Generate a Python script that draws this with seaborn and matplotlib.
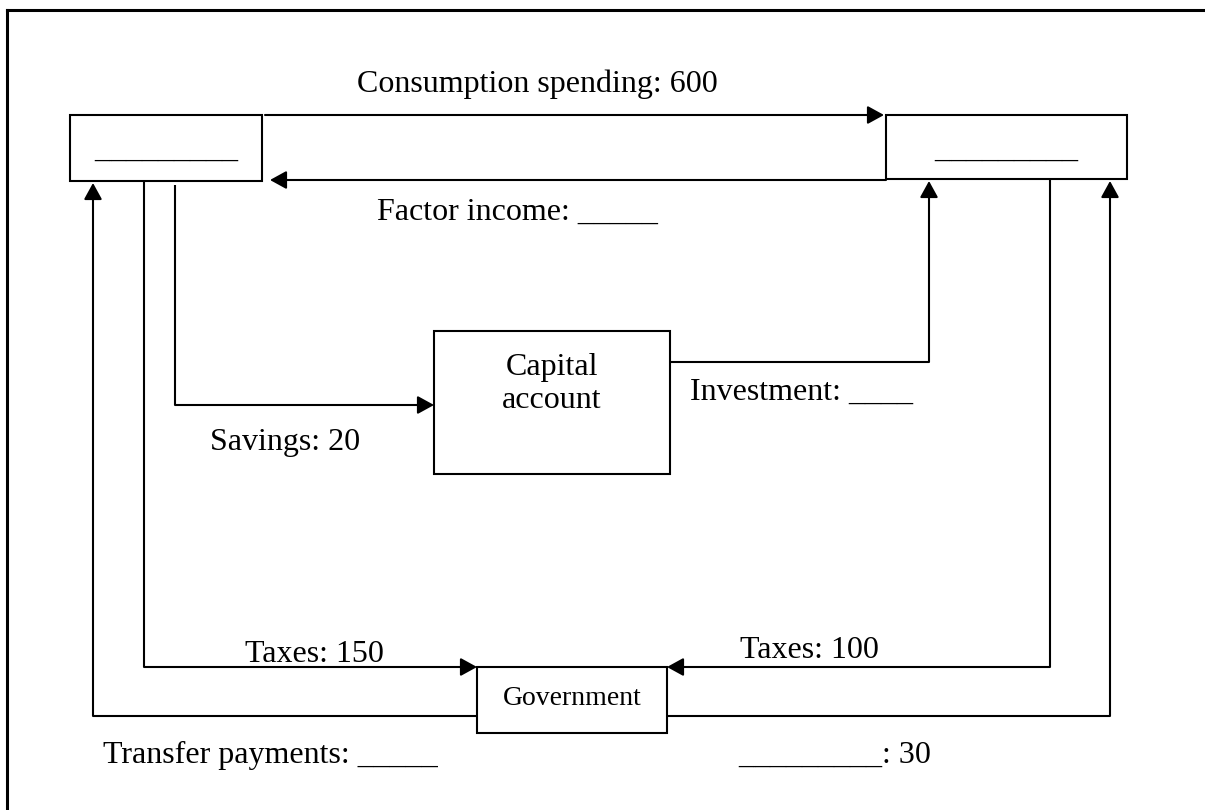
import matplotlib
matplotlib.use("Agg")
import matplotlib.pyplot as plt
import seaborn as sns
from matplotlib.patches import Rectangle

# diagram content
box_names = ["left", "right", "capital", "government"]
box_labels = ["_________", "_________", "Capital\naccount", "Government"]
flow_labels = [
    "Consumption spending: 600",
    "Factor income: _____",
    "Savings: 20",
    "Investment: ____",
    "Taxes: 150",
    "Taxes: 100",
    "Transfer payments: _____",
    "_________: 30",
]

sns.set_theme(style="white")
plt.rcParams['font.family'] = ['Liberation Serif', 'DejaVu Serif']
plt.rcParams['text.color'] = 'black'

fig = plt.figure(figsize=(12.05, 8.1), dpi=100)
ax = fig.add_axes([0, 0, 1, 1])
ax.set_xlim(0, 1205)
ax.set_ylim(810, 0)
ax.axis('off')

lw = 1.5
fs = 23

# page frame (only top and left edges visible)
ax.plot([7, 1205], [10, 10], color='black', lw=2.2, solid_capstyle='projecting')
ax.plot([7, 7], [10, 810], color='black', lw=2.2, solid_capstyle='projecting')

# boxes
boxes = {
    "left": (70, 115, 262, 181),
    "right": (886, 115, 1127, 179),
    "capital": (434, 331, 670, 474),
    "government": (477, 667, 667, 733),
}
for name in box_names:
    x0, y0, x1, y1 = boxes[name]
    ax.add_patch(Rectangle((x0, y0), x1 - x0, y1 - y0, fill=False,
                           edgecolor='black', lw=lw))

ax.text(166, 157, box_labels[0], fontsize=fs, ha='center', va='baseline', color='black')
ax.text(1006, 157, box_labels[1], fontsize=fs, ha='center', va='baseline', color='black')
cap_lines = box_labels[2].split("\n")
ax.text(552, 375, cap_lines[0], fontsize=fs, ha='center', va='baseline', color='black')
ax.text(552, 408, cap_lines[1], fontsize=fs, ha='center', va='baseline', color='black')
ax.text(572, 705, box_labels[3], fontsize=20, ha='center', va='baseline', color='black')


def flow(points):
    xs = [p[0] for p in points]
    ys = [p[1] for p in points]
    ax.plot(xs[:-1], ys[:-1], color='black', lw=lw, solid_capstyle='butt')
    ax.annotate('', xy=points[-1], xytext=points[-2],
                arrowprops=dict(arrowstyle='-|>,head_length=0.4,head_width=0.22',
                                color='black', lw=lw,
                                mutation_scale=25, shrinkA=0, shrinkB=0))


flow([(265, 115), (884, 115)])
flow([(886, 180), (270, 180)])
flow([(477, 716), (93, 716), (93, 183)])
flow([(144, 181), (144, 667), (477, 667)])
flow([(175, 185), (175, 405), (434, 405)])
flow([(670, 362), (929, 362), (929, 181)])
flow([(1050, 179), (1050, 667), (667, 667)])
flow([(667, 716), (1110, 716), (1110, 181)])

# flow labels
label_pos = [(357, 92), (377, 220), (210, 450), (690, 400),
             (245, 662), (740, 658), (103, 763), (738, 763)]
for txt, (x, y) in zip(flow_labels, label_pos):
    ax.text(x, y, txt, fontsize=fs, ha='left', va='baseline', color='black')

fig.savefig('out.png', dpi=100)
